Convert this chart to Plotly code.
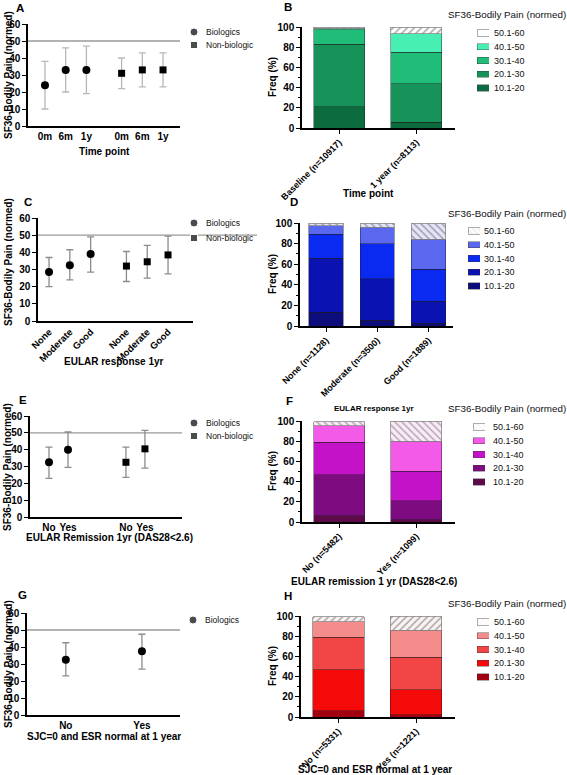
import plotly.graph_objects as go

W, H = 567, 775
FONT = "Liberation Sans, Arial, Helvetica, sans-serif"

# ---------------- data ----------------
pain_bins = ["10.1-20", "20.1-30", "30.1-40", "40.1-50", "50.1-60"]
series_names = ["Biologics", "Non-biologic"]

# Panel A (median, lower, upper)
a_ticks = ["0m", "6m", "1y"]
a_bio_mean = [24, 33, 33]
a_bio_lo = [10, 20, 19]
a_bio_hi = [38, 46, 47]
a_non_mean = [31, 33, 33]
a_non_lo = [22, 23, 23]
a_non_hi = [40, 43, 43]

# Panel B (% per pain band)
b_cats = ["Baseline (n=10917)", "1 year (n=8113)"]
b_10_20 = [21, 5.5]
b_20_30 = [62, 38.5]
b_30_40 = [14.5, 31]
b_40_50 = [1.5, 18.5]
b_50_60 = [1, 6.5]

# Panel C
c_ticks = ["None", "Moderate", "Good"]
c_bio_mean = [28.5, 32.5, 39]
c_bio_lo = [20, 24, 28.5]
c_bio_hi = [37, 41.5, 49]
c_non_mean = [32, 34.5, 38.5]
c_non_lo = [23, 25, 27.5]
c_non_hi = [40.5, 44, 49.5]

# Panel D
d_cats = ["None (n=1128)", "Moderate (n=3500)", "Good (n=1889)"]
d_10_20 = [13.5, 5.5, 2.5]
d_20_30 = [52.5, 40.5, 21.5]
d_30_40 = [23, 34, 31]
d_40_50 = [8.5, 16, 29]
d_50_60 = [2.5, 4, 16]

# Panel E
e_ticks = ["No", "Yes"]
e_bio_mean = [32.5, 40]
e_bio_lo = [23, 29.5]
e_bio_hi = [41.5, 50.5]
e_non_mean = [32.5, 40.5]
e_non_lo = [23.5, 29]
e_non_hi = [41.5, 51.5]

# Panel F
f_cats = ["No (n=5482)", "Yes (n=1099)"]
f_10_20 = [6, 2]
f_20_30 = [41, 19]
f_30_40 = [32, 29.5]
f_40_50 = [16.5, 29.5]
f_50_60 = [4, 20]

# Panel G
g_ticks = ["No", "Yes"]
g_bio_mean = [32.5, 37.5]
g_bio_lo = [23, 27]
g_bio_hi = [42.5, 47.5]

# Panel H
h_cats = ["No (n=5331)", "Yes (n=1221)"]
h_10_20 = [6, 2.3]
h_20_30 = [41, 24.7]
h_30_40 = [32, 32]
h_40_50 = [15.5, 27]
h_50_60 = [5, 14]

reference_value = 50

# ---------------- helpers ----------------
fig = go.Figure()
axes = {}
shapes = []
anns = []
count = [0]


def dom_x(a, b):
    return [a / W, b / W]


def dom_y(top, bottom):
    return [1 - bottom / H, 1 - top / H]


def new_axes(xd, yd, xkw, ykw):
    count[0] += 1
    k = count[0]
    s = "" if k == 1 else str(k)
    axes["xaxis" + s] = dict(domain=dom_x(*xd), anchor="y" + s, automargin=False, **xkw)
    axes["yaxis" + s] = dict(domain=dom_y(*yd), anchor="x" + s, automargin=False, **ykw)
    return "x" + s, "y" + s


def axstyle(**kw):
    d = dict(showgrid=False, zeroline=False, showline=True, linecolor="black",
             linewidth=1.5, ticks="outside", ticklen=4, tickwidth=1.2,
             tickcolor="black", fixedrange=True,
             tickfont=dict(family=FONT, size=10, color="black", weight="bold"))
    d.update(kw)
    return d


def text(x, y, s, size=10, bold=True, angle=0, xanchor="center", color="black"):
    anns.append(dict(x=x / W, y=1 - y / H, xref="paper", yref="paper", text=s,
                     showarrow=False, xanchor=xanchor, yanchor="middle",
                     textangle=angle,
                     font=dict(family=FONT, size=size, color=color,
                               weight="bold" if bold else "normal")))


def scatter_panel(xd, yd, ticks, groups, offset, xrange_, err_color,
                  tickangle=0, tickfs=10, line_x1=1.0):
    tickvals, ticktext = [], []
    positions = []
    for g in range(len(groups)):
        pos = [g * offset + i for i in range(len(ticks))]
        positions.append(pos)
        tickvals += pos
        ticktext += ticks
    xid, yid = new_axes(
        xd, yd,
        axstyle(range=xrange_, tickvals=tickvals, ticktext=ticktext, ticks="",
                tickangle=tickangle,
                tickfont=dict(family=FONT, size=tickfs, color="black", weight="bold")),
        axstyle(range=[0, 60], dtick=10))
    for pos, (symbol, size, mean, lo, hi) in zip(positions, groups):
        fig.add_trace(go.Scatter(
            x=pos, y=mean, mode="markers",
            marker=dict(symbol=symbol, size=size, color="black"),
            error_y=dict(type="data", symmetric=False,
                         array=[h - m for h, m in zip(hi, mean)],
                         arrayminus=[m - l for m, l in zip(mean, lo)],
                         color=err_color, thickness=1.3, width=3.5),
            xaxis=xid, yaxis=yid, showlegend=False, cliponaxis=False))
    shapes.append(dict(type="line", xref=xid + " domain", x0=0, x1=line_x1,
                       yref=yid, y0=reference_value, y1=reference_value,
                       line=dict(color="#9a9a9a", width=1.3), layer="below"))


def scatter_legend(xd, yd, names, symbols, sizes, standoff=7):
    xid, yid = new_axes(
        xd, yd,
        dict(range=[0, 1], visible=False, fixedrange=True),
        dict(type="category", categoryorder="array", categoryarray=names[::-1],
             range=[-0.5, len(names) - 0.5], side="right", showgrid=False,
             zeroline=False, showline=False, ticks="", fixedrange=True,
             ticklabelstandoff=standoff,
             tickfont=dict(family=FONT, size=8.5, color="#111")))
    fig.add_trace(go.Scatter(x=[0.5] * len(names), y=names, mode="markers",
                             marker=dict(symbol=symbols, size=sizes, color="black"),
                             xaxis=xid, yaxis=yid, showlegend=False,
                             cliponaxis=False))


def bar_panel(xd, yd, cats, vals_by_bin, palette, xrange_, bar_w):
    xid, yid = new_axes(
        xd, yd,
        axstyle(type="category", categoryorder="array", categoryarray=cats,
                range=xrange_, tickangle=-45, ticklen=4,
                tickfont=dict(family=FONT, size=9, color="black", weight="bold")),
        axstyle(range=[0, 100], dtick=20,
                minor=dict(dtick=10, ticklen=2, tickcolor="black", tickwidth=1,
                           ticks="outside")))
    for b, vals, (col, hatch) in zip(pain_bins, vals_by_bin, palette):
        marker = dict(color=col, line=dict(color="rgba(30,30,30,0.55)", width=0.8))
        if hatch:
            marker["pattern"] = dict(shape=hatch[0], fgcolor=hatch[1], bgcolor=col,
                                     size=5, solidity=0.3, fillmode="replace")
            marker["line"] = dict(color="#8a8a8a", width=0.8)
        fig.add_trace(go.Bar(x=cats, y=vals, name=b, width=bar_w, marker=marker,
                             xaxis=xid, yaxis=yid, showlegend=False))


def bar_legend(xd, yd, palette, standoff=4):
    xid, yid = new_axes(
        xd, yd,
        dict(range=[0, 1], visible=False, fixedrange=True),
        dict(type="category", categoryorder="array", categoryarray=pain_bins,
             range=[-0.5, len(pain_bins) - 0.5], side="right", showgrid=False,
             zeroline=False, showline=False, ticks="", fixedrange=True,
             ticklabelstandoff=standoff,
             tickfont=dict(family=FONT, size=9, color="#111")))
    colors = [c for c, h in palette]
    pshape = [h[0] if h else "" for c, h in palette]
    pfg = [h[1] if h else c for c, h in palette]
    fig.add_trace(go.Bar(
        orientation="h", x=[1] * len(pain_bins), y=pain_bins, width=0.45,
        marker=dict(color=colors, line=dict(color="rgba(60,60,60,0.6)", width=0.7),
                    pattern=dict(shape=pshape, fgcolor=pfg, bgcolor=colors,
                                 size=4, solidity=0.3, fillmode="replace")),
        xaxis=xid, yaxis=yid, showlegend=False))


# palettes: (fill colour, hatch(shape, line colour) or None)
green = [("#0d6b40", None), ("#17935a", None), ("#20bd78", None),
         ("#48efb2", None), ("#ffffff", ("/", "#a8a8a8"))]
blue = [("#0c0c7a", None), ("#0a12b2", None), ("#0a2af2", None),
        ("#5a68f0", None), ("#e6e6f2", ("\\", "#9c9cbc"))]
purple = [("#5c0a48", None), ("#7c0c80", None), ("#c412c8", None),
          ("#f45ae8", None), ("#f6eef4", ("\\", "#c0a4bc"))]
red = [("#a0000f", None), ("#f50a0a", None), ("#f24545", None),
       ("#f58c8c", None), ("#f8f4f4", ("/", "#b0a4a4"))]

# ---------------- panels ----------------
# A
scatter_panel((28, 180), (24, 126), a_ticks,
              [("circle", 8, a_bio_mean, a_bio_lo, a_bio_hi),
               ("square", 7, a_non_mean, a_non_lo, a_non_hi)],
              offset=3.7, xrange_=[-0.82, 6.52], err_color="#b8b8b8")
scatter_legend((190, 198), (25.5, 51.5), series_names, ["circle", "square"], [8, 7])

# B
bar_panel((302, 455), (27, 128), b_cats, [b_10_20, b_20_30, b_30_40, b_40_50, b_50_60],
          green, [-0.48, 1.5], 0.66)
bar_legend((477, 489), (26, 95), green, 4)

# C
scatter_panel((38, 193), (218, 321), c_ticks,
              [("circle", 8, c_bio_mean, c_bio_lo, c_bio_hi),
               ("square", 7, c_non_mean, c_non_lo, c_non_hi)],
              offset=3.72, xrange_=[-0.53, 6.92], err_color="#8c8c8c",
              tickangle=-45, tickfs=9.5, line_x1=(257 - 38) / (193 - 38))
scatter_legend((190, 198), (215.5, 245.5), series_names, ["circle", "square"], [8, 7])

# D
bar_panel((300, 453), (223, 326), d_cats, [d_10_20, d_20_30, d_30_40, d_40_50, d_50_60],
          blue, [-0.51, 2.48], 0.67)
bar_legend((468, 480), (224, 293), blue, 3)

# E
scatter_panel((30, 182), (416, 517), e_ticks,
              [("circle", 8, e_bio_mean, e_bio_lo, e_bio_hi),
               ("square", 7, e_non_mean, e_non_lo, e_non_hi)],
              offset=4.05, xrange_=[-1.0, 7.0], err_color="#8c8c8c")
scatter_legend((190, 198), (416.5, 442.5), series_names, ["circle", "square"], [8, 7])

# F
bar_panel((302, 455), (421, 522), f_cats, [f_10_20, f_20_30, f_30_40, f_40_50, f_50_60],
          purple, [-0.48, 1.5], 0.66)
bar_legend((473, 485), (420, 489), purple, 7)

# G
scatter_panel((27, 180), (613, 715), g_ticks,
              [("circle", 8, g_bio_mean, g_bio_lo, g_bio_hi)],
              offset=0, xrange_=[-0.51, 1.5], err_color="#8c8c8c")
scatter_legend((189, 197), (613, 627), series_names[:1], ["circle"], [8])

# H
bar_panel((301, 455), (616, 717), h_cats, [h_10_20, h_20_30, h_30_40, h_40_50, h_50_60],
          red, [-0.48, 1.5], 0.66)
bar_legend((477, 489), (615, 684), red, 4)

# ---------------- text ----------------
y_title = "SF36-Bodily Pain (normed)"
freq_title = "Freq (%)"
legend_title = "SF36-Bodily Pain (normed)"

for lab, x, y in [("A", 20, 8), ("B", 288, 7), ("C", 28, 202), ("D", 294, 202),
                  ("E", 23, 400), ("F", 289, 401), ("G", 22, 595), ("H", 288, 596)]:
    text(x, y, lab, size=11.5)

for y in [75, 262, 467, 664]:
    text(8, y, y_title, size=10, angle=-90)
for y in [77, 274, 471, 666]:
    text(272, y, freq_title, size=10, angle=-90)
for y in [14, 213, 408, 603]:
    text(446, y, legend_title, size=9.8, bold=False, xanchor="left", color="#111")

text(104, 151, "Time point")
text(368, 193, "Time point")
text(114, 361, "EULAR response 1yr")
text(374, 408, "EULAR response 1yr", size=8)
text(109, 537, "EULAR Remission 1yr (DAS28&lt;2.6)")
text(374, 581, "EULAR remission 1 yr (DAS28&lt;2.6)")
text(104, 736, "SJC=0 and ESR normal at 1 year")
text(375, 769, "SJC=0 and ESR normal at 1 year")

fig.update_layout(
    width=W, height=H, margin=dict(l=0, r=0, t=0, b=0, pad=0, autoexpand=False),
    paper_bgcolor="white", plot_bgcolor="white",
    barmode="stack", showlegend=False,
    annotations=anns, shapes=shapes,
    font=dict(family=FONT, color="black"),
    **axes)

fig.write_html("out.html", config={"displayModeBar": False},
               post_script="document.body.style.margin='0';document.body.style.padding='0';")
